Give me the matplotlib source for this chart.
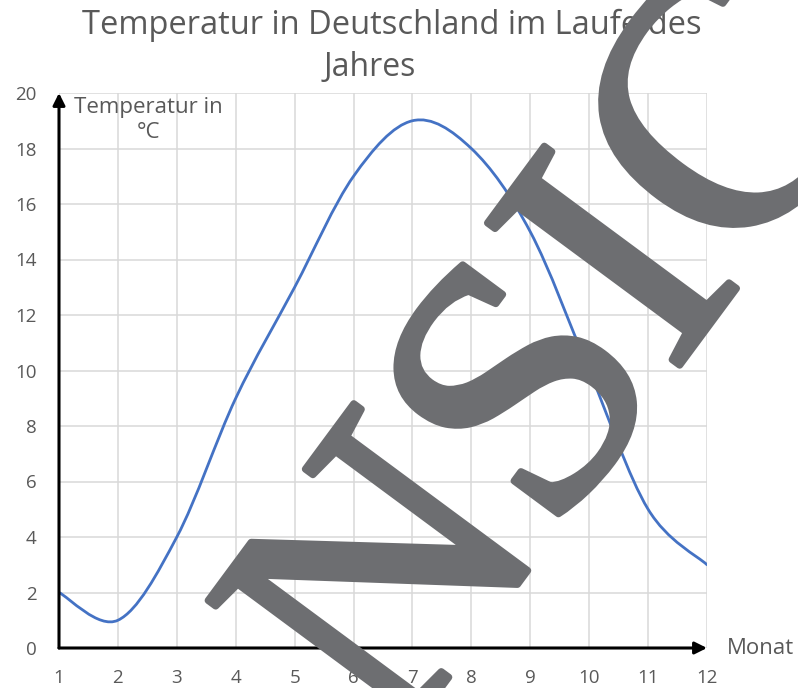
import matplotlib
matplotlib.use("Agg")
import matplotlib.pyplot as plt
import matplotlib.patheffects as pe
from matplotlib.path import Path
from matplotlib.patches import PathPatch

# Data
months = [1, 2, 3, 4, 5, 6, 7, 8, 9, 10, 11, 12]
temps = [2, 1, 4, 9, 13, 17, 19, 18, 15, 10, 5, 3]
yticks = [0, 2, 4, 6, 8, 10, 12, 14, 16, 18, 20]

title_1 = "Temperatur in Deutschland im Laufe des"
title_2 = "Jahres"
ylabel = "Temperatur in\n°C"
xlabel = "Monat"
watermark = "ANSICHT"

plt.rcParams['font.family'] = ['Open Sans', 'DejaVu Sans']
grey = '#595959'
wm_grey = '#6d6e71'


def smooth_path(x, y):
    """Excel-style smoothed line as cubic bezier segments"""
    verts = [(x[0], y[0])]
    codes = [Path.MOVETO]
    n = len(x)
    for i in range(n - 1):
        x0, y0 = (x[i - 1], y[i - 1]) if i > 0 else (x[i], y[i])
        x3, y3 = (x[i + 2], y[i + 2]) if i + 2 < n else (x[i + 1], y[i + 1])
        c1 = (x[i] + (x[i + 1] - x0) / 6, y[i] + (y[i + 1] - y0) / 6)
        c2 = (x[i + 1] - (x3 - x[i]) / 6, y[i + 1] - (y3 - y[i]) / 6)
        verts += [c1, c2, (x[i + 1], y[i + 1])]
        codes += [Path.CURVE4] * 3
    return Path(verts, codes)


fig = plt.figure(figsize=(7.98, 6.88), dpi=100)
ax = fig.add_axes([59 / 798, 40 / 688, 648 / 798, 555 / 688])

ax.add_patch(PathPatch(smooth_path(months, temps), fill=False,
                       edgecolor='#4472c4', lw=2.0, capstyle='round', zorder=3))

ax.set_xlim(1, 12)
ax.set_ylim(0, 20)
ax.set_xticks(months)
ax.set_yticks(yticks)
ax.grid(True, color='#d9d9d9', lw=1.1)
ax.set_axisbelow(True)
for s in ax.spines.values():
    s.set_visible(False)
ax.tick_params(length=0, labelsize=13.5, labelcolor=grey)
ax.tick_params(axis='x', pad=15)
ax.tick_params(axis='y', pad=16)

# axis arrows
arrow = dict(arrowstyle='-|>', color='black', lw=2.2, mutation_scale=18,
             shrinkA=0, shrinkB=0)
ax.annotate('', xy=(1, 0), xytext=(0, 0), xycoords='axes fraction',
            arrowprops=arrow, annotation_clip=False)
ax.annotate('', xy=(0, 1), xytext=(0, 0), xycoords='axes fraction',
            arrowprops=arrow, annotation_clip=False)

fig.text(148 / 798, 1 - 97 / 688, ylabel, ha='center', va='top',
         fontsize=16, color=grey, linespacing=1.25)
fig.text(727 / 798, 1 - 648 / 688, xlabel, ha='left', va='center',
         fontsize=16, color=grey)

fig.text(392 / 798, 1 - 25 / 688, title_1, ha='center', va='center',
         fontsize=23.5, color=grey)
fig.text(370 / 798, 1 - 68 / 688, title_2, ha='center', va='center',
         fontsize=23, color=grey)

# watermark
fig.text(708 / 798, 1 - 327 / 688, watermark, family='Liberation Serif',
         fontsize=263, color=wm_grey, rotation=53.5, rotation_mode='anchor',
         ha='center', va='baseline', zorder=10,
         path_effects=[pe.withStroke(linewidth=5, foreground=wm_grey)])

fig.savefig('out.png', dpi=100)
